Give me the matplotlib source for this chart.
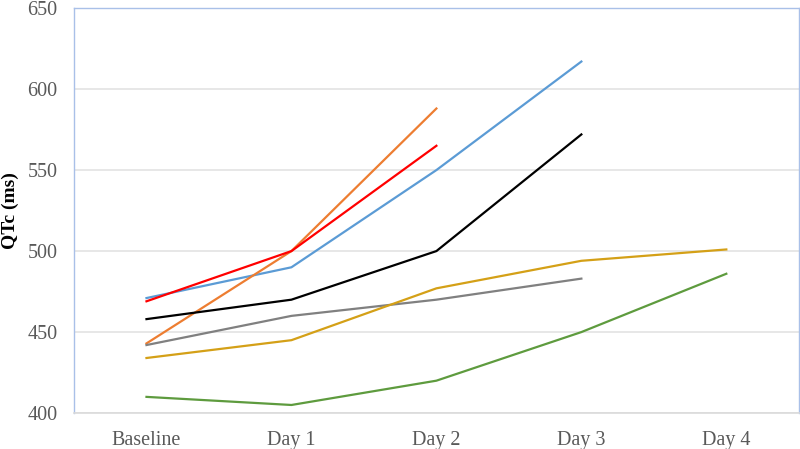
import numpy as np
import matplotlib
matplotlib.use("Agg")
import matplotlib.pyplot as plt

# Categorias do eixo x
dias = ["Baseline", "Day 1", "Day 2", "Day 3", "Day 4"]

# Valores de QTc (ms) por paciente
qtc_vermelho = [469, 500, 565]
qtc_laranja = [443, 500, 588]
qtc_azul = [471, 490, 550, 617]
qtc_preto = [458, 470, 500, 572]
qtc_cinza = [442, 460, 470, 483]
qtc_dourado = [434, 445, 477, 494, 501]
qtc_verde = [410, 405, 420, 450, 486]

series = [
    (qtc_azul, "#5B9BD5"),
    (qtc_laranja, "#ED7D31"),
    (qtc_vermelho, "#FF0000"),
    (qtc_preto, "#000000"),
    (qtc_cinza, "#808080"),
    (qtc_dourado, "#D4A017"),
    (qtc_verde, "#5E9B3E"),
]

plt.rcParams['font.family'] = ['Liberation Serif', 'DejaVu Serif']

fig = plt.figure(figsize=(8, 4.49), dpi=100)
ax = fig.add_axes([0.0925, 0.08, 0.906, 0.902])

x = np.arange(len(dias))
for valores, cor in series:
    ax.plot(x[:len(valores)], valores, color=cor, linewidth=1.6)

ax.set_xlim(-0.5, len(dias) - 0.5)
ax.set_ylim(400, 650)
ax.set_yticks(np.arange(400, 651, 50))
ax.set_xticks(x)
ax.set_xticklabels(dias)
ax.grid(axis='y', color='#E3E3E3', linewidth=1.2)
ax.set_axisbelow(True)

for lado in ['left', 'top', 'right']:
    ax.spines[lado].set_color('#A9C0E8')
    ax.spines[lado].set_linewidth(1.0)
ax.spines['bottom'].set_color('#DADADA')
ax.spines['bottom'].set_linewidth(1.2)

ax.tick_params(length=0, labelsize=14.5, labelcolor='#595959')
ax.tick_params(axis='x', pad=13)
ax.tick_params(axis='y', pad=12)
ax.set_ylabel('QTc (ms)', fontsize=14, fontweight='bold', labelpad=6)

fig.savefig("out.png", dpi=100)
